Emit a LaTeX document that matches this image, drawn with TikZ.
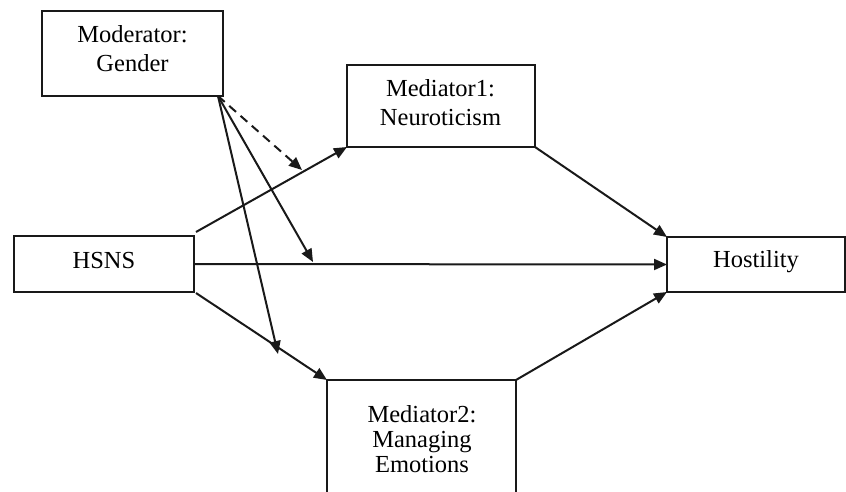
\documentclass[tikz,border=0pt]{standalone}
\usepackage{fontspec}
\setmainfont{Liberation Serif}
\usetikzlibrary{arrows.meta,calc}
\tikzset{
  boxnode/.style={draw=black!90, line width=1.6pt, rectangle, inner sep=0pt, outer sep=0pt},
  lbl/.style={anchor=base, align=center, inner sep=0pt, text=black},
  conn/.style={line width=2pt, draw=black!90, -{Triangle[length=13pt,width=11pt]}},
}
\begin{document}
\begin{tikzpicture}[x=1pt,y=-1pt]
\useasboundingbox (0,0) rectangle (846,492);
\clip (0,0) rectangle (846,492);
% boxes
\node[boxnode, minimum width=181pt, minimum height=85pt] (mod) at (132.5,53.5) {};
\node[boxnode, minimum width=188pt, minimum height=82pt] (med1) at (441,106) {};
\node[boxnode, minimum width=180pt, minimum height=56pt] (hsns) at (104,264) {};
\node[boxnode, minimum width=178pt, minimum height=55pt] (host) at (756,264.5) {};
\node[boxnode, minimum width=189pt, minimum height=140pt] (med2) at (421.5,450) {};
% texts (base anchor = last line's baseline)
\node[lbl, font=\fontsize{24.5}{29.5}\selectfont] (modtxt) at (132.5,71.8) {Moderator:\\Gender};
\node[lbl, font=\fontsize{24.5}{29}\selectfont] (med1txt) at (440.5,126) {Mediator1:\\Neuroticism};
\node[lbl, font=\fontsize{24.5}{25}\selectfont] (med2txt) at (422,472) {Mediator2:\\Managing\\Emotions};
\node[lbl, font=\fontsize{24.5}{29}\selectfont] (hsnstxt) at (104,268) {HSNS};
\node[lbl, font=\fontsize{24.5}{29}\selectfont] (hosttxt) at (756,267) {Hostility};
% connectors
\draw[conn] ($(hsns.north east)+(2,-4)$) -- (med1.south west);
\draw[conn] (hsns.east) -- (host.west);
\draw[conn] ($(hsns.south east)+(2,1)$) -- (med2.north west);
\draw[conn] (med1.south east) -- (host.north west);
\draw[conn] (med2.north east) -- (host.south west);
% moderator paths
\coordinate (mstart) at ($(mod.south east)+(-5,0)$);
\coordinate (tipA) at (302,170);
\coordinate (tipB) at (313,262);
\coordinate (tipC) at (278,354);
\draw[conn, dash pattern=on 9pt off 6pt] (mstart) -- (tipA);
\draw[conn] (mstart) -- (tipB);
\draw[conn] (mstart) -- (tipC);
\end{tikzpicture}
\end{document}
